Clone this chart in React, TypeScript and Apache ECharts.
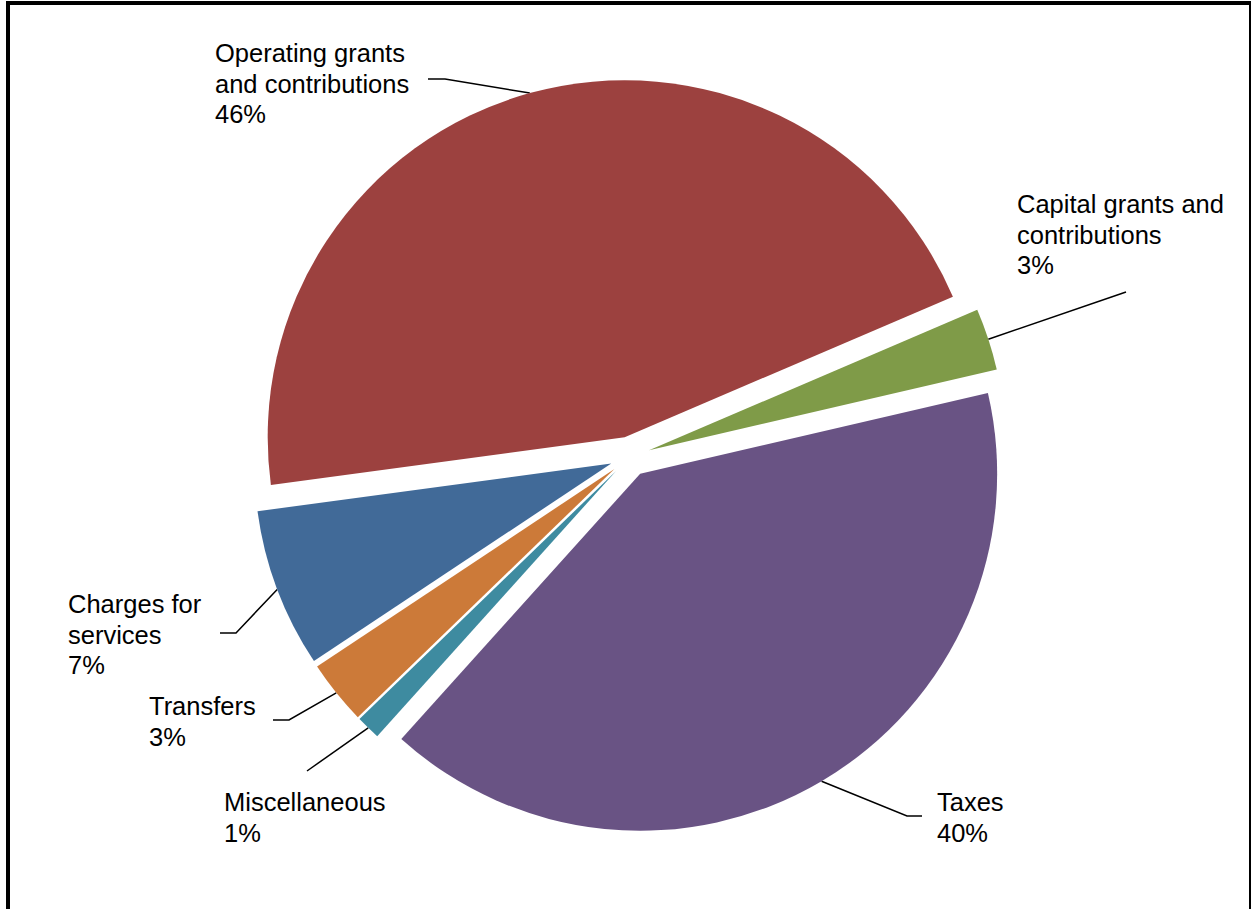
import React, { useEffect, useRef } from "react";
import * as echarts from "echarts";

const categories = [
  "Charges for services",
  "Operating grants and contributions",
  "Capital grants and contributions",
  "Taxes",
  "Miscellaneous",
  "Transfers",
];
const labelTexts = [
  "Charges for\nservices",
  "Operating grants\nand contributions",
  "Capital grants and\ncontributions",
  "Taxes",
  "Miscellaneous",
  "Transfers",
];
const values = [7.2, 45.7, 2.8, 40.3, 1.1, 2.9];
const colors = ["#416A98", "#9C413F", "#7F9B48", "#695384", "#3E8BA0", "#CC7A39"];

// label layout (positions only)
const labelX = [68, 215, 1017, 937, 224, 149];
const labelY = [589, 38, 189, 787, 787, 691];
const lineTails: number[][][] = [
  [[236, 633], [220, 633]],
  [[445, 79], [428, 79]],
  [[1126, 292], [1126, 292]],
  [[907, 816], [922, 816]],
  [[307, 771], [307, 771]],
  [[289, 720], [273, 720]],
];

const CENTER = [630, 456.5];
const RADIUS = 357;
const EXPLODE = 20;
const START = 213.6;

export default function App() {
  const ref = useRef<HTMLDivElement>(null);
  useEffect(() => {
    if (!ref.current) return;
    const chart = echarts.init(ref.current, null, { renderer: "svg" });
    chart.setOption({
      animation: false,
      backgroundColor: "#ffffff",
      graphic: [
        {
          type: "rect",
          shape: { x: 8, y: 3, width: 1243, height: 1000 },
          style: { fill: "none", stroke: "#000", lineWidth: 4 },
          silent: true,
        },
      ],
      series: [
        {
          type: "pie",
          center: CENTER,
          radius: [0, RADIUS],
          startAngle: START,
          clockwise: true,
          selectedMode: "multiple",
          selectedOffset: EXPLODE,
          emphasis: { disabled: true },
          data: categories.map((name, i) => ({
            name,
            value: values[i],
            selected: true,
            itemStyle: { color: colors[i] },
          })),
          itemStyle: { borderWidth: 0 },
          label: { show: false },
          labelLine: { show: false },
        },
        {
          type: "pie",
          silent: true,
          center: CENTER,
          radius: [0, RADIUS + EXPLODE],
          startAngle: START,
          clockwise: true,
          selectedMode: false,
          avoidLabelOverlap: false,
          emphasis: { disabled: true },
          data: categories.map((name, i) => ({ name, value: values[i] })),
          itemStyle: { color: "rgba(0,0,0,0)", borderWidth: 0 },
          label: {
            show: true,
            position: "outside",
            formatter: (p: any) => `${labelTexts[p.dataIndex]}\n${Math.round(p.percent)}%`,
            color: "#000",
            fontFamily: "'Liberation Sans', Arial, sans-serif",
            fontSize: 25.5,
            lineHeight: 30.5,
            align: "left",
          },
          labelLine: {
            show: true,
            lineStyle: { color: "#000", width: 1.5, opacity: 1 },
          },
          labelLayout: (params: any) => {
            const i = params.dataIndex;
            const p0 = params.labelLinePoints ? params.labelLinePoints[0] : [0, 0];
            return {
              x: labelX[i],
              y: labelY[i],
              align: "left",
              verticalAlign: "top",
              labelLinePoints: [p0, lineTails[i][0], lineTails[i][1]],
            };
          },
        },
      ],
    });
    return () => chart.dispose();
  }, []);
  return (
    <div
      ref={ref}
      style={{ position: "fixed", left: 0, top: 0, width: 1251, height: 909, background: "#fff" }}
    />
  );
}
